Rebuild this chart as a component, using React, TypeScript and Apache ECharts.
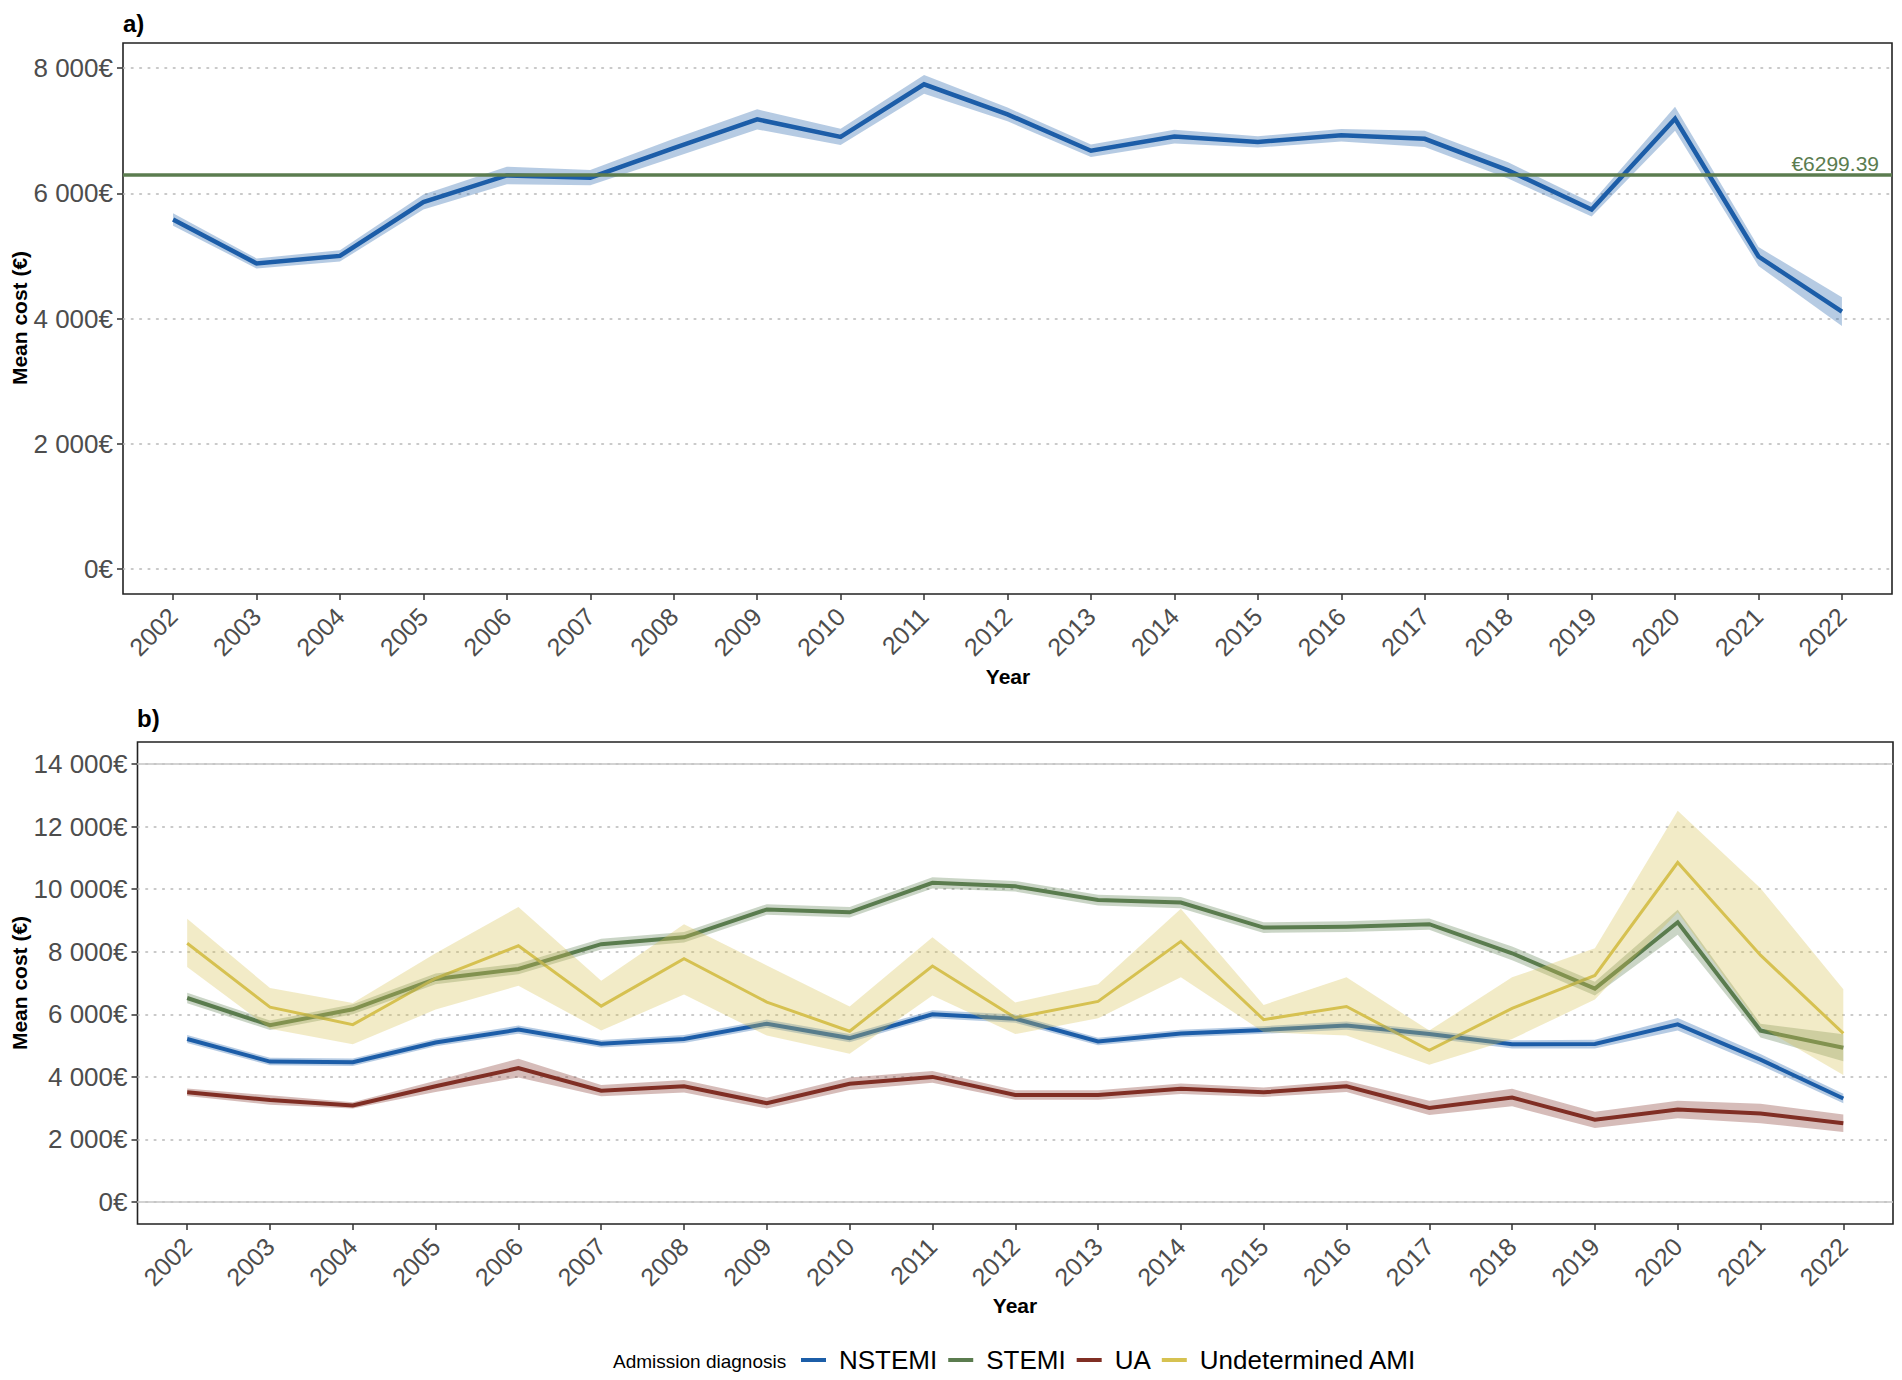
import React, { useEffect, useRef } from "react";
import * as echarts from "echarts";

// ---------- data ----------
const years = [2002, 2003, 2004, 2005, 2006, 2007, 2008, 2009, 2010, 2011, 2012, 2013, 2014, 2015, 2016, 2017, 2018, 2019, 2020, 2021, 2022];

// panel a: overall mean cost
const overallMean = [5580, 4880, 5000, 5860, 6285, 6250, 6720, 7180, 6900, 7740, 7260, 6680, 6905, 6820, 6925, 6870, 6365, 5740, 7190, 4990, 4110];
const overallLower = [5480, 4800, 4910, 5740, 6145, 6130, 6570, 7020, 6770, 7590, 7150, 6580, 6795, 6730, 6825, 6740, 6235, 5630, 7000, 4840, 3880];
const overallUpper = [5680, 4960, 5090, 5980, 6425, 6370, 6870, 7340, 7030, 7890, 7370, 6780, 7015, 6910, 7025, 7000, 6495, 5850, 7380, 5140, 4340];
const overallAverage = 6299.39;
const overallAverageLabel = "€6299.39";

// panel b: by admission diagnosis
const nstemiMean = [5210, 4490, 4470, 5100, 5510, 5060, 5210, 5700, 5240, 6000, 5860, 5130, 5390, 5500, 5640, 5370, 5040, 5050, 5680, 4550, 3310];
const nstemiLower = [5080, 4370, 4350, 4980, 5380, 4940, 5080, 5570, 5110, 5870, 5730, 5010, 5270, 5380, 5510, 5240, 4910, 4910, 5480, 4370, 3160];
const nstemiUpper = [5340, 4610, 4590, 5220, 5640, 5180, 5340, 5830, 5370, 6130, 5990, 5250, 5510, 5620, 5770, 5500, 5170, 5190, 5880, 4730, 3460];

const stemiMean = [6520, 5650, 6160, 7130, 7450, 8240, 8460, 9350, 9260, 10200, 10090, 9650, 9570, 8770, 8800, 8880, 7950, 6820, 8940, 5480, 4930];
const stemiLower = [6350, 5500, 6000, 6960, 7280, 8070, 8290, 9180, 9090, 10020, 9920, 9480, 9390, 8600, 8630, 8700, 7730, 6600, 8540, 5260, 4500];
const stemiUpper = [6690, 5800, 6320, 7300, 7620, 8410, 8630, 9520, 9430, 10380, 10260, 9820, 9750, 8940, 8970, 9060, 8170, 7040, 9340, 5700, 5360];

const uaMean = [3510, 3260, 3090, 3700, 4280, 3560, 3700, 3160, 3780, 4000, 3420, 3420, 3620, 3510, 3700, 3010, 3340, 2630, 2960, 2830, 2520];
const uaLower = [3390, 3110, 2990, 3520, 3980, 3380, 3500, 2990, 3580, 3810, 3270, 3270, 3450, 3360, 3520, 2780, 3060, 2370, 2680, 2520, 2240];
const uaUpper = [3630, 3410, 3190, 3880, 4580, 3740, 3900, 3330, 3980, 4190, 3570, 3570, 3790, 3660, 3880, 3240, 3620, 2890, 3240, 3140, 2800];

const undetMean = [8270, 6230, 5670, 7150, 8190, 6260, 7780, 6390, 5460, 7540, 5890, 6410, 8330, 5830, 6250, 4850, 6190, 7240, 10850, 7890, 5390];
const undetLower = [7510, 5540, 5040, 6150, 6910, 5480, 6630, 5320, 4740, 6600, 5370, 5870, 7180, 5430, 5320, 4390, 5210, 6470, 9260, 5600, 4060];
const undetUpper = [9050, 6840, 6360, 7950, 9430, 7070, 8880, 7560, 6250, 8460, 6380, 6960, 9370, 6300, 7180, 5480, 7180, 8110, 12500, 10030, 6800];

const yTicksA = [0, 2000, 4000, 6000, 8000];
const yTicksB = [0, 2000, 4000, 6000, 8000, 10000, 12000, 14000];
const solidRefLinesB = [0, 14000];

const diagnosisNames = ["NSTEMI", "STEMI", "UA", "Undetermined AMI"];

// ---------- style ----------
const FONT = "Liberation Sans, Arial, Helvetica, sans-serif";
const BLUE = "#1c5ea8";
const GREEN = "#5b7c4f";
const RED = "#802f24";
const YELLOW = "#d6c251";
const BAND_ALPHA = 0.32;

function hexToRgba(hex: string, a: number) {
  const n = parseInt(hex.slice(1), 16);
  return `rgba(${(n >> 16) & 255},${(n >> 8) & 255},${n & 255},${a})`;
}

function euro(v: number) {
  if (v === 0) return "0€";
  const th = Math.floor(v / 1000);
  const rest = String(v % 1000).padStart(3, "0");
  return `${th} ${rest}€`;
}

const pairs = (vals: number[]) => years.map((y, i) => [y, vals[i]]);

function makeXAxis(gridIndex: number) {
  return {
    type: "value",
    gridIndex,
    min: 2001.4,
    max: 2022.6,
    axisLine: { show: false, onZero: false },
    axisTick: {
      show: true,
      customValues: years,
      length: 6,
      lineStyle: { color: "#333", width: 1.5 },
    },
    axisLabel: {
      customValues: years,
      rotate: 45,
      margin: 18,
      fontSize: 25,
      color: "#4d4d4d",
      fontFamily: FONT,
      formatter: (v: number) => String(Math.round(v)),
    },
    splitLine: { show: false },
  };
}

function makeYAxis(gridIndex: number, min: number, max: number, ticks: number[]) {
  return {
    type: "value",
    gridIndex,
    min,
    max,
    axisLine: { show: false, onZero: false },
    axisTick: {
      show: true,
      customValues: ticks,
      length: 6,
      lineStyle: { color: "#333", width: 1.5 },
    },
    axisLabel: {
      customValues: ticks,
      margin: 10,
      fontSize: 26,
      color: "#4d4d4d",
      fontFamily: FONT,
      formatter: (v: number) => euro(Math.round(v)),
    },
    splitLine: {
      show: true,
      lineStyle: { color: "#b8b8b8", width: 1.6, type: [1.6, 6.8], cap: "round" },
    },
  };
}

function lineSeries(name: string, vals: number[], color: string, width: number, axis: number) {
  return {
    name,
    type: "line",
    xAxisIndex: axis,
    yAxisIndex: axis,
    data: pairs(vals),
    color,
    symbol: "none",
    silent: true,
    z: 3,
    lineStyle: { color, width, join: "miter" },
  };
}

function bandSeries(name: string, lo: number[], hi: number[], color: string, axis: number) {
  const fill = hexToRgba(color, BAND_ALPHA);
  return {
    name: name + " band",
    type: "custom",
    xAxisIndex: axis,
    yAxisIndex: axis,
    silent: true,
    z: 4,
    data: years.map((y, i) => [y, lo[i], hi[i]]),
    encode: { x: 0, y: [1, 2] },
    renderItem: (params: any, api: any) => {
      if (params.dataIndex !== 0) return null;
      const top = years.map((y, i) => api.coord([y, hi[i]]));
      const bottom = years.map((y, i) => api.coord([y, lo[i]])).reverse();
      return {
        type: "polygon",
        shape: { points: top.concat(bottom) },
        style: { fill, stroke: "none" },
      };
    },
  };
}

export default function App() {
  const ref = useRef<HTMLDivElement>(null);

  useEffect(() => {
    document.body.style.margin = "0";
    if (!ref.current) return;
    const chart = echarts.init(ref.current, undefined, { renderer: "svg" });

    const option: any = {
      animation: false,
      backgroundColor: "#ffffff",
      textStyle: { fontFamily: FONT },
      grid: [
        { left: 123, top: 43, width: 1769, height: 551, show: true, borderColor: "#222", borderWidth: 1.6, backgroundColor: "transparent" },
        { left: 137.5, top: 742, width: 1755.5, height: 482, show: true, borderColor: "#222", borderWidth: 1.6, backgroundColor: "transparent" },
      ],
      xAxis: [makeXAxis(0), makeXAxis(1)],
      yAxis: [makeYAxis(0, -400, 8400, yTicksA), makeYAxis(1, -700, 14700, yTicksB)],
      legend: {
        left: 801,
        top: 1347,
        padding: 0,
        data: diagnosisNames,
        icon: "rect",
        itemWidth: 25,
        itemHeight: 4,
        itemGap: 11,
        selectedMode: false,
        textStyle: { fontSize: 26, color: "#000", fontFamily: FONT, padding: [0, 0, 0, 8] },
      },
      graphic: [
        { type: "text", left: 123, top: 11, style: { text: "a)", font: `bold 24px ${FONT}`, fill: "#000" } },
        { type: "text", left: 137, top: 706, style: { text: "b)", font: `bold 24px ${FONT}`, fill: "#000" } },
        { type: "text", x: 19, y: 318, rotation: Math.PI / 2, style: { text: "Mean cost (€)", font: `bold 21px ${FONT}`, fill: "#000", align: "center", verticalAlign: "middle" } },
        { type: "text", x: 19, y: 983, rotation: Math.PI / 2, style: { text: "Mean cost (€)", font: `bold 21px ${FONT}`, fill: "#000", align: "center", verticalAlign: "middle" } },
        { type: "text", x: 1008, y: 676, style: { text: "Year", font: `bold 21px ${FONT}`, fill: "#000", align: "center", verticalAlign: "middle" } },
        { type: "text", x: 1015, y: 1305, style: { text: "Year", font: `bold 21px ${FONT}`, fill: "#000", align: "center", verticalAlign: "middle" } },
        { type: "text", left: 613, top: 1352, style: { text: "Admission diagnosis", font: `19px ${FONT}`, fill: "#000" } },
      ],
      series: [
        // reference lines in panel b (solid at 0 and 14 000)
        {
          name: "ref b",
          type: "line",
          xAxisIndex: 1,
          yAxisIndex: 1,
          data: [],
          z: 1,
          silent: true,
          markLine: {
            silent: true,
            symbol: "none",
            label: { show: false },
            lineStyle: { color: "#c4c4c4", width: 1.6, type: "solid" },
            data: solidRefLinesB.map((v) => ({ yAxis: v })),
          },
        },
        // panel a
        lineSeries("Overall", overallMean, BLUE, 4.5, 0),
        bandSeries("Overall", overallLower, overallUpper, BLUE, 0),
        {
          name: "Average",
          type: "line",
          xAxisIndex: 0,
          yAxisIndex: 0,
          data: [],
          z: 5,
          silent: true,
          markLine: {
            silent: true,
            symbol: "none",
            lineStyle: { color: GREEN, width: 3.5, type: "solid" },
            label: {
              show: true,
              position: "insideEndTop",
              formatter: overallAverageLabel,
              color: GREEN,
              fontSize: 21,
              fontFamily: FONT,
              distance: 1,
              padding: [0, 12, 0, 0],
            },
            data: [{ yAxis: overallAverage }],
          },
        },
        // panel b lines
        lineSeries("NSTEMI", nstemiMean, BLUE, 4, 1),
        lineSeries("STEMI", stemiMean, GREEN, 4, 1),
        lineSeries("UA", uaMean, RED, 4, 1),
        lineSeries("Undetermined AMI", undetMean, YELLOW, 3, 1),
        // panel b ribbons
        bandSeries("NSTEMI", nstemiLower, nstemiUpper, BLUE, 1),
        bandSeries("STEMI", stemiLower, stemiUpper, GREEN, 1),
        bandSeries("UA", uaLower, uaUpper, RED, 1),
        bandSeries("Undetermined AMI", undetLower, undetUpper, YELLOW, 1),
      ],
    };

    chart.setOption(option);
    return () => chart.dispose();
  }, []);

  return <div ref={ref} style={{ width: 1902, height: 1380 }} />;
}
